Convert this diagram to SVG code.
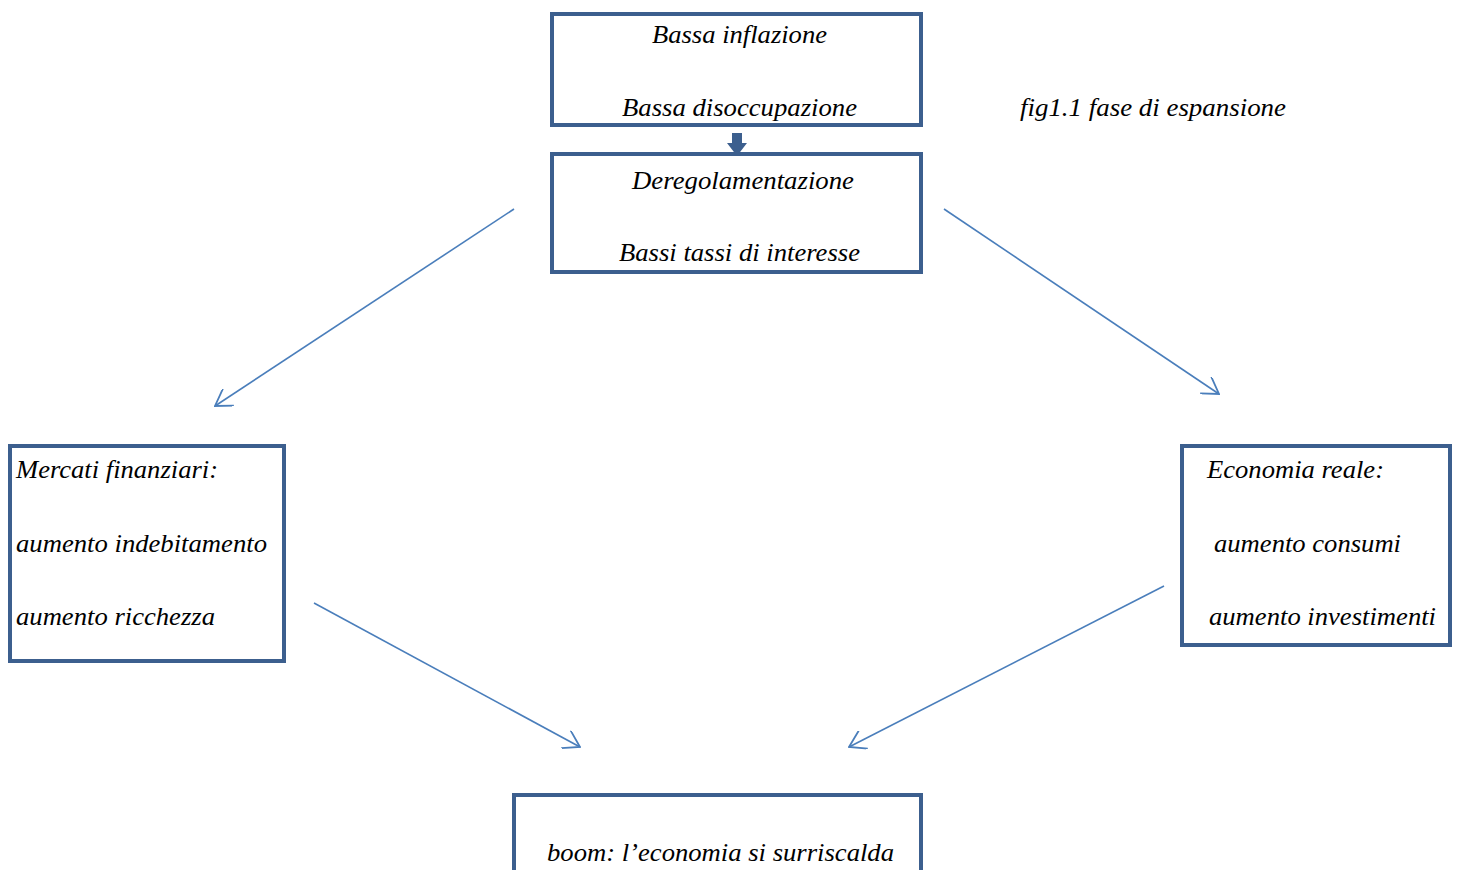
<svg xmlns="http://www.w3.org/2000/svg" width="1458" height="870" viewBox="0 0 1458 870">
<style>
.box{fill:#fff;stroke:#3C5F8E;stroke-width:4}
.t{font-family:"Liberation Serif","Times New Roman",serif;font-style:italic;font-size:25px;fill:#000}
.ln{stroke:#4A7EBB;stroke-width:1.6;fill:none}
</style>
<defs>
<marker id="ah" viewBox="0 0 20 20" refX="19" refY="10" markerWidth="20" markerHeight="20" markerUnits="userSpaceOnUse" orient="auto">
<path d="M3,0 L19,10 L3,20" fill="none" stroke="#4A7EBB" stroke-width="1.8"/>
</marker>
</defs>
<rect width="1458" height="870" fill="#fff"/>
<g id="connectors">
<path d="M732,133 H742 V143 H747 L737,156 L727,143 H732 Z" fill="#3C5F8E"/>
<line class="ln" x1="514" y1="209" x2="215" y2="406" marker-end="url(#ah)"/>
<line class="ln" x1="944" y1="209" x2="1219" y2="394" marker-end="url(#ah)"/>
<line class="ln" x1="314" y1="603" x2="580" y2="747" marker-end="url(#ah)"/>
<line class="ln" x1="1164" y1="586" x2="849" y2="747" marker-end="url(#ah)"/>
</g>
<g id="n1">
<rect class="box" x="552" y="14" width="369" height="111"/>
<text class="t" x="652" y="43" textLength="175" lengthAdjust="spacingAndGlyphs">Bassa inflazione</text>
<text class="t" x="622" y="116" textLength="235" lengthAdjust="spacingAndGlyphs">Bassa disoccupazione</text>
</g>
<g id="n2">
<rect class="box" x="552" y="154" width="369" height="118"/>
<text class="t" x="632" y="189" textLength="222" lengthAdjust="spacingAndGlyphs">Deregolamentazione</text>
<text class="t" x="619" y="261" textLength="241" lengthAdjust="spacingAndGlyphs">Bassi tassi di interesse</text>
</g>
<g id="caption">
<text class="t" x="1020" y="116" textLength="266" lengthAdjust="spacingAndGlyphs">fig1.1 fase di espansione</text>
</g>
<g id="n3">
<rect class="box" x="10" y="446" width="274" height="215"/>
<text class="t" x="16" y="478" textLength="202" lengthAdjust="spacingAndGlyphs">Mercati finanziari:</text>
<text class="t" x="16" y="552" textLength="251" lengthAdjust="spacingAndGlyphs">aumento indebitamento</text>
<text class="t" x="16" y="625" textLength="199" lengthAdjust="spacingAndGlyphs">aumento ricchezza</text>
</g>
<g id="n4">
<rect class="box" x="1182" y="446" width="268" height="199"/>
<text class="t" x="1207" y="478" textLength="177" lengthAdjust="spacingAndGlyphs">Economia reale:</text>
<text class="t" x="1214" y="552" textLength="187" lengthAdjust="spacingAndGlyphs">aumento consumi</text>
<text class="t" x="1209" y="625" textLength="227" lengthAdjust="spacingAndGlyphs">aumento investimenti</text>
</g>
<g id="n5">
<rect class="box" x="514" y="795" width="407" height="110"/>
<text class="t" x="547" y="861" textLength="347" lengthAdjust="spacingAndGlyphs">boom: l’economia si surriscalda</text>
</g>
</svg>
